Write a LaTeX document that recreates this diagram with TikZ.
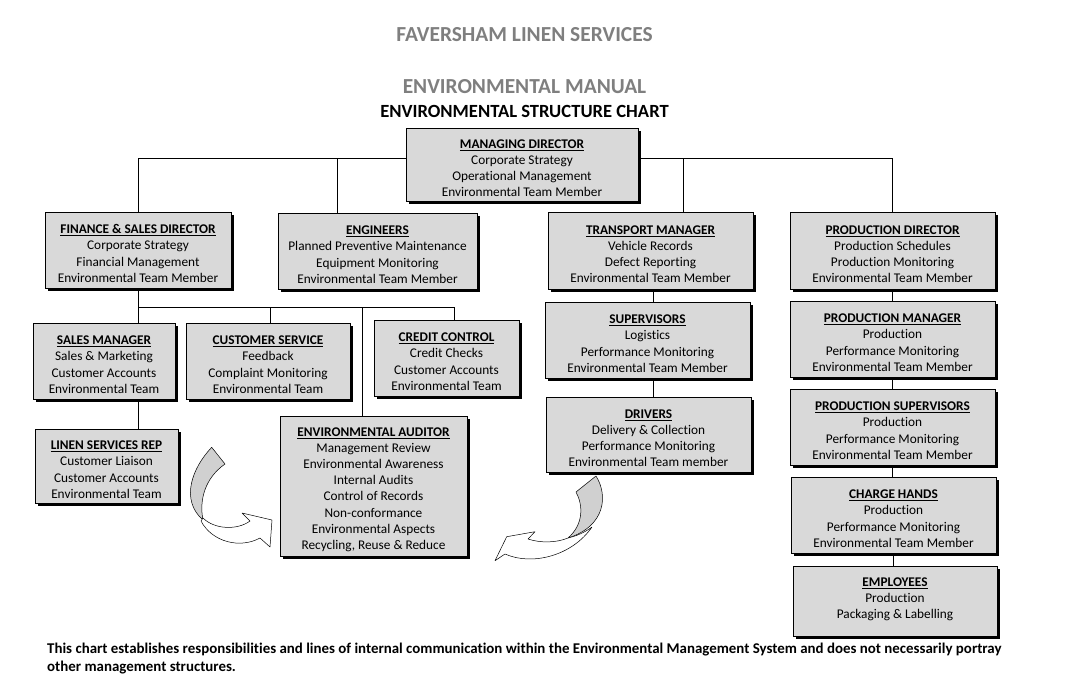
\documentclass[tikz,border=0pt]{standalone}
\usepackage{fontspec}
\setmainfont{Carlito}[Ligatures=NoCommon]
\usetikzlibrary{shadows,backgrounds}
\definecolor{boxgray}{HTML}{D9D9D9}
\definecolor{titlegray}{HTML}{7F7F7F}
\definecolor{arrowgray}{HTML}{D0D0D0}
\newcommand\hdr[1]{\rule{0pt}{16pt}\underline{\textbf{#1}}}
\begin{document}
\begin{tikzpicture}[x=1pt,y=-1pt,
  orgbox/.style={draw=black, line width=0.8pt, fill=boxgray,
    drop shadow={shadow xshift=3pt,shadow yshift=-3pt,fill=black,opacity=1},
    align=center, font=\fontsize{13.3}{16.1}\selectfont, inner sep=0pt},
  link/.style={draw=black, line width=0.8pt},
  ribbon/.style={draw=black, line width=0.5pt, line join=round},
  titletext/.style={font=\fontsize{21.4}{24}\selectfont\bfseries, inner sep=0pt}]
\useasboundingbox (0,0) rectangle (1075,691);

% titles
\node[titletext, text=titlegray] (t1) at (524.5,35) {FAVERSHAM LINEN SERVICES};
\node[titletext, text=titlegray] (t2) at (524.5,87) {ENVIRONMENTAL MANUAL};
\node[titletext, text=black, font=\fontsize{18.6}{22}\selectfont\bfseries] (t3) at (524.5,111) {ENVIRONMENTAL STRUCTURE CHART};

% boxes
\node[orgbox, minimum width=232pt, minimum height=73pt] (md) at (522,164.5)
  {\hdr{MANAGING DIRECTOR}\\Corporate Strategy\\Operational Management\\Environmental Team Member};
\node[orgbox, minimum width=186pt, minimum height=76pt] (fsd) at (138,250)
  {\hdr{FINANCE \& SALES DIRECTOR}\\Corporate Strategy\\Financial Management\\Environmental Team Member};
\node[orgbox, minimum width=199pt, minimum height=76pt] (eng) at (377.5,251)
  {\hdr{ENGINEERS}\\Planned Preventive Maintenance\\Equipment Monitoring\\Environmental Team Member};
\node[orgbox, minimum width=205pt, minimum height=77pt] (tm) at (650.5,250.5)
  {\hdr{TRANSPORT MANAGER}\\Vehicle Records\\Defect Reporting\\Environmental Team Member};
\node[orgbox, minimum width=205pt, minimum height=77pt] (pd) at (892.5,250.5)
  {\hdr{PRODUCTION DIRECTOR}\\Production Schedules\\Production Monitoring\\Environmental Team Member};
\node[orgbox, minimum width=142pt, minimum height=76pt] (sm) at (104,361)
  {\hdr{SALES MANAGER}\\Sales \& Marketing\\Customer Accounts\\Environmental Team};
\node[orgbox, minimum width=164pt, minimum height=76pt] (cs) at (268,361)
  {\hdr{CUSTOMER SERVICE}\\Feedback\\Complaint Monitoring\\Environmental Team};
\node[orgbox, minimum width=145pt, minimum height=76pt] (cc) at (446.5,358)
  {\hdr{CREDIT CONTROL}\\Credit Checks\\Customer Accounts\\Environmental Team};
\node[orgbox, minimum width=143pt, minimum height=74pt] (lsr) at (106.5,466)
  {\hdr{LINEN SERVICES REP}\\Customer Liaison\\Customer Accounts\\Environmental Team};
\node[orgbox, minimum width=187pt, minimum height=140pt] (ea) at (373.5,486)
  {\hdr{ENVIRONMENTAL AUDITOR}\\Management Review\\Environmental Awareness\\Internal Audits\\Control of Records\\Non-conformance\\Environmental Aspects\\Recycling, Reuse \& Reduce};
\node[orgbox, minimum width=205pt, minimum height=76pt] (sup) at (647.5,340)
  {\hdr{SUPERVISORS}\\Logistics\\Performance Monitoring\\Environmental Team Member};
\node[orgbox, minimum width=205pt, minimum height=75pt] (drv) at (648.5,434.5)
  {\hdr{DRIVERS}\\Delivery \& Collection\\Performance Monitoring\\Environmental Team member};
\node[orgbox, minimum width=205pt, minimum height=76pt] (pm) at (892.5,339)
  {\hdr{PRODUCTION MANAGER}\\Production\\Performance Monitoring\\Environmental Team Member};
\node[orgbox, minimum width=205pt, minimum height=76pt] (ps) at (892.5,427)
  {\hdr{PRODUCTION SUPERVISORS}\\Production\\Performance Monitoring\\Environmental Team Member};
\node[orgbox, minimum width=205pt, minimum height=76pt] (ch) at (893.5,515)
  {\hdr{CHARGE HANDS}\\Production\\Performance Monitoring\\Environmental Team Member};
\node[orgbox, minimum width=204pt, minimum height=70pt] (emp) at (895,601)
  {\hdr{EMPLOYEES}\\Production\\Packaging \& Labelling\rule[-13pt]{0pt}{0pt}};

% connectors
\begin{pgfonlayer}{background}
\coordinate (mdbus) at (522,158);
\coordinate (b2) at (337,158);
\coordinate (b3) at (683,158);
\coordinate (fbus) at (138,307);
\coordinate (fbusE) at (454,307);
\coordinate (fb2) at (270,307);
\coordinate (fb3) at (362,307);
\coordinate (tv) at (653,0);
\draw[link] (fsd.north) -- (fsd.north |- mdbus) -- (pd.north |- mdbus) -- (pd.north);
\draw[link] (b2) -- (b2 |- eng.north);
\draw[link] (b3) -- (b3 |- tm.north);
\draw[link] (fsd.south) -- (fsd.south |- sm.north);
\draw[link] (fbus) -- (fbusE) -- (fbusE |- cc.north);
\draw[link] (fb2) -- (fb2 |- cs.north);
\draw[link] (fb3) -- (fb3 |- ea.north);
\draw[link] (fsd.south |- sm.south) -- (fsd.south |- lsr.north);
\draw[link] (tv |- tm.south) -- (tv |- sup.north);
\draw[link] (tv |- sup.south) -- (tv |- drv.north);
\draw[link] (pd.south) -- (pd.south |- pm.north);
\draw[link] (pm.south) -- (pm.south |- ps.north);
\draw[link] (ps.south) -- (ps.south |- ch.north);
\draw[link] (ch.south) -- (ch.south |- emp.north);
\end{pgfonlayer}

% left curved arrow
\path[ribbon, fill=arrowgray] (211.7,447.3) .. controls (192,468) and (180,500) .. (203,520)
  .. controls (199,500) and (205,478) .. (225,464) -- cycle;
\path[ribbon, fill=white] (203,518) .. controls (215,530) and (238,530) .. (250,521)
  -- (242,513) -- (272,520) -- (270,547) -- (260,538)
  .. controls (240,549) and (212,542) .. (201,521) -- cycle;

% right curved arrow
\path[ribbon, fill=arrowgray] (596,476) .. controls (608,495) and (606,526) .. (568,538)
  .. controls (584,524) and (583,505) .. (576,492) -- cycle;
\path[ribbon, fill=white] (568,538) .. controls (556,543) and (540,543) .. (528,539)
  -- (535,531.7) -- (506.7,536.7) -- (495,560.7) -- (505,554)
  .. controls (532,566) and (572,556) .. (592,527)
  .. controls (584,533) and (576,536) .. (568,538) -- cycle;

% footer
\node[anchor=north west, align=left, inner sep=0pt, font=\fontsize{14.9}{18}\selectfont\bfseries] (foot) at (47,643)
  {This chart establishes responsibilities and lines of internal communication within the Environmental Management System and does not necessarily portray\\other management structures.};
\end{tikzpicture}
\end{document}
